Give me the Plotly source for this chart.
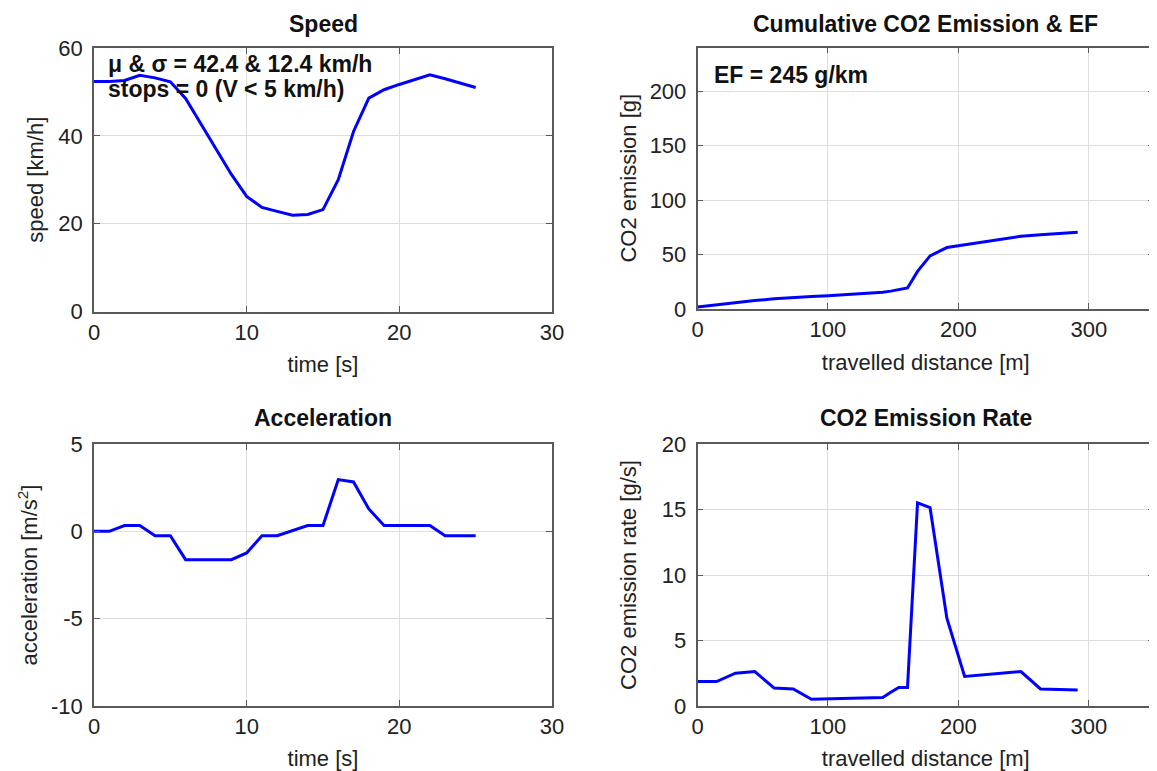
import plotly.graph_objects as go

# ---------------- data ----------------
time_s = [0, 1, 2, 3, 4, 5, 6, 7, 8, 9, 10, 11, 12, 13, 14, 15, 16, 17, 18, 19, 20, 21, 22, 23, 24, 25]
speed_kmh = [52.4, 52.4, 52.6, 53.8, 53.2, 52.3, 48.5, 42.7, 36.9, 31.2, 26.2, 23.7, 22.8, 21.9, 22.1, 23.2,
             30.0, 41.0, 48.6, 50.5, 51.7, 52.8, 53.9, 53.0, 52.0, 51.0]
accel_ms2 = [0.0, 0.0, 0.33, 0.33, -0.25, -0.25, -1.62, -1.62, -1.62, -1.62, -1.24, -0.25, -0.25, 0.04, 0.33, 0.33,
             2.96, 2.83, 1.28, 0.33, 0.33, 0.33, 0.33, -0.25, -0.25, -0.25]
distance_m = [0, 14.6, 29.1, 43.9, 58.8, 73.4, 87.4, 100.1, 111.2, 120.6, 128.6, 135.5, 142.0, 148.2, 154.3, 161.0,
              168.7, 178.3, 191.2, 204.8, 219.0, 233.5, 248.0, 263.0, 277.4, 291.5]
cum_co2_g = [1.9, 3.9, 6.0, 7.8, 9.3, 10.6, 11.4, 12.2, 12.9, 13.6, 14.2, 14.8, 15.4, 16.4, 17.8, 19.3,
             34.5, 48.8, 56.4, 58.8, 61.4, 64.0, 66.8, 68.2, 69.4, 70.4]
co2_rate_gs = [1.87, 1.87, 2.5, 2.63, 1.37, 1.3, 0.52, 0.55, 0.57, 0.6, 0.62, 0.63, 0.65, 1.05, 1.42, 1.42,
               15.5, 15.15, 6.7, 2.26, 2.38, 2.5, 2.63, 1.3, 1.28, 1.22]

time_ticks = [0, 10, 20, 30]
dist_ticks = [0, 100, 200, 300]
speed_ticks = [0, 20, 40, 60]
cum_ticks = [0, 50, 100, 150, 200]
accel_ticks = [-10, -5, 0, 5]
accel_tick_labels = ["-10", "-5", "0", "5"]
rate_ticks = [0, 5, 10, 15, 20]

titles = ["Speed", "Cumulative CO2 Emission & EF", "Acceleration", "CO2 Emission Rate"]
stats_line1 = "\u03bc & \u03c3 = 42.4 & 12.4 km/h"
stats_line2 = "stops = 0 (V &lt; 5 km/h)"
ef_text = "EF = 245 g/km"

# ---------------- layout helpers ----------------
# the page body has an 8 px margin, so figure coordinates = screen coordinates - 8
OFF = 8
W, H = 1157 - OFF, 771 - OFF
FONT = "Liberation Sans, Arial, Helvetica, sans-serif"


def px_x(p):
    return (p - OFF) / W


def px_y(p):
    return 1 - (p - OFF) / H


def xd(a, b):
    return [px_x(a), px_x(b)]


def yd(top, bottom):
    return [px_y(bottom), px_y(top)]


def axis(domain, rng, tickvals, title, anchor, standoff, is_y, ticktext=None):
    d = dict(
        domain=domain, range=rng, tickvals=tickvals, anchor=anchor,
        automargin=False,
        showline=True, mirror="ticks", linecolor="#5a5a5a", linewidth=1.5,
        ticks="inside", ticklen=6, tickcolor="#5a5a5a", tickwidth=1,
        showgrid=True, gridcolor="#dedede", gridwidth=1, zeroline=False,
        tickfont=dict(family=FONT, size=22, color="#222"),
        title=dict(text=title, font=dict(family=FONT, size=22, color="#222"), standoff=standoff),
        fixedrange=True,
    )
    if is_y:
        d["ticklabelstandoff"] = 5
    if ticktext is not None:
        d["ticktext"] = ticktext
    return d


line_style = dict(color="#0000ff", width=3)

fig = go.Figure()
fig.add_trace(go.Scatter(x=time_s, y=speed_kmh, mode="lines", line=line_style, xaxis="x", yaxis="y"))
fig.add_trace(go.Scatter(x=distance_m, y=cum_co2_g, mode="lines", line=line_style, xaxis="x2", yaxis="y2"))
fig.add_trace(go.Scatter(x=time_s, y=accel_ms2, mode="lines", line=line_style, xaxis="x3", yaxis="y3"))
fig.add_trace(go.Scatter(x=distance_m, y=co2_rate_gs, mode="lines", line=line_style, xaxis="x4", yaxis="y4"))

dom_tl = (xd(94, 552), yd(48, 311.5))
dom_tr = (xd(697.5, 1154), yd(47.5, 309))
dom_bl = (xd(94, 552), yd(444, 706))
dom_br = (xd(697.5, 1154), yd(444, 706))

XS, YS = 13, 7

fig.update_layout(
    width=W, height=H,
    margin=dict(l=0, r=0, t=0, b=0, autoexpand=False),
    paper_bgcolor="white", plot_bgcolor="white",
    showlegend=False,
    xaxis=axis(dom_tl[0], [0, 30], time_ticks, "time [s]", "y", XS, False),
    yaxis=axis(dom_tl[1], [0, 60], speed_ticks, "speed [km/h]", "x", YS + 2, True),
    xaxis2=axis(dom_tr[0], [0, 350], dist_ticks, "travelled distance [m]", "y2", XS, False),
    yaxis2=axis(dom_tr[1], [0, 240], cum_ticks, "CO2 emission [g]", "x2", YS, True),
    xaxis3=axis(dom_bl[0], [0, 30], time_ticks, "time [s]", "y3", XS, False),
    yaxis3=axis(dom_bl[1], [-10, 5], accel_ticks, "acceleration [m/s<sup>2</sup>]", "x3", YS, True,
                accel_tick_labels),
    xaxis4=axis(dom_br[0], [0, 350], dist_ticks, "travelled distance [m]", "y4", XS, False),
    yaxis4=axis(dom_br[1], [0, 20], rate_ticks, "CO2 emission rate [g/s]", "x4", YS + 12, True),
)

annotations = []
title_pos = [((94 + 552) / 2, 24), ((697.5 + 1154) / 2, 24), ((94 + 552) / 2, 418), ((697.5 + 1154) / 2, 418)]
for txt, (cx, cy) in zip(titles, title_pos):
    annotations.append(dict(text="<b>" + txt + "</b>", x=px_x(cx), y=px_y(cy), xref="paper", yref="paper",
                            xanchor="center", yanchor="middle", showarrow=False,
                            font=dict(family=FONT, size=23, color="#111")))

for txt, (lx, cy) in [(stats_line1, (106, 64)), (stats_line2, (106, 89)), (ef_text, (712, 75))]:
    annotations.append(dict(text="<b>" + txt + "</b>", x=px_x(lx), y=px_y(cy), xref="paper", yref="paper",
                            xanchor="left", yanchor="middle", showarrow=False, align="left",
                            font=dict(family=FONT, size=23, color="#111")))

fig.update_layout(annotations=annotations)

fig.write_html("out.html")
